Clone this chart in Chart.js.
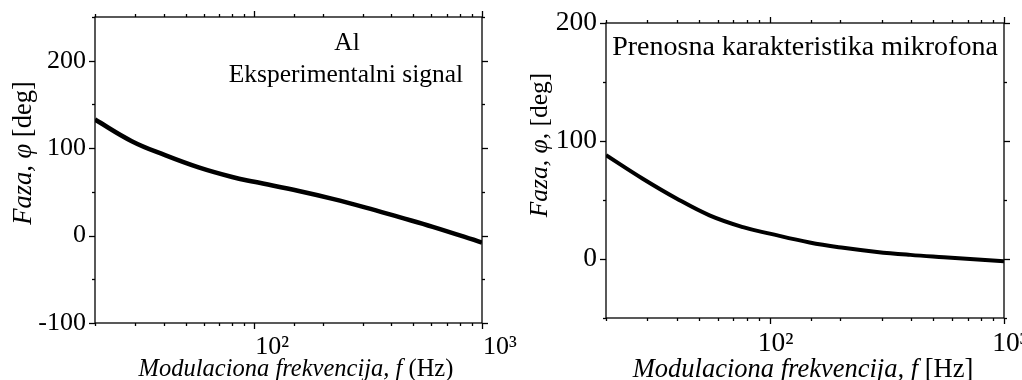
<!DOCTYPE html>
<html><head><meta charset="utf-8">
<script src="https://cdn.jsdelivr.net/npm/chart.js@4/dist/chart.umd.min.js"></script>
<style>
html,body{margin:0;padding:0;background:#fff;}
#wrap{position:relative;width:1022px;height:380px;overflow:hidden;background:#fff;}
.pane{position:absolute;top:0;height:380px;}
</style></head>
<body><div id="wrap">
<div class="pane" style="left:0;width:520px"><canvas id="c1" width="520" height="380"></canvas></div>
<div class="pane" style="left:510px;width:512px"><canvas id="c2" width="512" height="380"></canvas></div>
</div>
<script>
// ---- data ----
const freqAl = [20, 29, 40.6, 57, 80, 100, 157, 221, 309, 434, 608, 1000];
const phaseAl = [132.7, 108, 92, 78, 67, 61.5, 51, 42, 32, 21, 10, -8];
const freqMic = [20, 28.7, 39.8, 55.3, 76.9, 100, 148, 206, 287, 398, 553, 1000];
const phaseMic = [88, 68, 51.5, 37, 27, 21.5, 14, 9.5, 6, 3.5, 1.5, -2];
const xTickLabels = {100: '10\u00B2', 1000: '10\u00B3'};
const yLabelsLeft = [-100, 0, 100, 200];
const yLabelsRight = [0, 100, 200];
const annotLeft = ['Al', 'Eksperimentalni signal'];
const annotRight = ['Prenosna karakteristika mikrofona'];

const SERIF = '"Liberation Serif", "DejaVu Serif", serif';

function drawMixed(ctx, parts, size, cx, cy) {
  let total = 0;
  parts.forEach(p => { ctx.font = (p[1] ? 'italic ' : '') + size + 'px ' + SERIF; total += ctx.measureText(p[0]).width; });
  let x = cx - total / 2;
  ctx.textAlign = 'left'; ctx.textBaseline = 'middle';
  parts.forEach(p => { ctx.font = (p[1] ? 'italic ' : '') + size + 'px ' + SERIF; ctx.fillText(p[0], x, cy); x += ctx.measureText(p[0]).width; });
}

const framePlugin = {
  id: 'frame',
  afterDraw(chart, args, o) {
    const {ctx, chartArea: a, scales: {x, y}} = chart;
    ctx.save();
    ctx.strokeStyle = '#000'; ctx.fillStyle = '#000'; ctx.lineWidth = 1.3;
    ctx.strokeRect(a.left, a.top, a.right - a.left, a.bottom - a.top);
    const seg = (x1, y1, x2, y2) => { ctx.beginPath(); ctx.moveTo(x1, y1); ctx.lineTo(x2, y2); ctx.stroke(); };
    x.ticks.forEach(t => {
      const px = Math.round(x.getPixelForValue(t.value)) + 0.5;
      const L = xTickLabels[t.value] ? 6 : 3;
      seg(px, a.bottom, px, a.bottom + L);
      seg(px, a.top, px, a.top - L);
    });
    y.ticks.forEach(t => {
      const py = Math.round(y.getPixelForValue(t.value)) + 0.5;
      const L = o.yMajor.includes(t.value) ? 6 : 3;
      seg(a.left, py, a.left - L, py);
      seg(a.right, py, a.right + L, py);
    });
    o.annot.forEach(n => { ctx.font = o.annotSize + 'px ' + SERIF; ctx.textAlign = 'center'; ctx.textBaseline = 'middle'; ctx.fillText(n[0], n[1], n[2]); });
    ctx.save();
    ctx.translate(o.yTitleX, o.yTitleY);
    ctx.rotate(-Math.PI / 2);
    drawMixed(ctx, o.yTitle, o.yTitleSize, 0, 0);
    ctx.restore();
    drawMixed(ctx, o.xTitle, o.xTitleSize, o.xTitleX, o.xTitleY);
    ctx.restore();
  }
};

function makeChart(id, freq, phase, cfg) {
  return new Chart(document.getElementById(id), {
    type: 'line',
    data: { datasets: [{ data: freq.map((f, i) => ({x: f, y: phase[i]})), borderColor: '#000', borderWidth: cfg.lw, pointRadius: 0, tension: 0.4, fill: false }] },
    options: {
      responsive: false, animation: false, devicePixelRatio: 1,
      layout: { padding: cfg.pad },
      plugins: { legend: {display: false}, tooltip: {enabled: false}, frame: cfg.frame },
      scales: {
        x: {
          type: 'logarithmic', min: 20, max: 1000,
          grid: {display: false, drawTicks: false}, border: {display: false},
          afterFit: s => { s.height = cfg.xh; s.paddingLeft = 0; s.paddingRight = 0; },
          ticks: { autoSkip: false, maxRotation: 0, padding: cfg.xpad, labelOffset: cfg.xoff, color: '#000', font: {family: SERIF, size: cfg.tickSize},
            callback: v => xTickLabels[v] || '' }
        },
        y: {
          min: cfg.ymin, max: cfg.ymax,
          grid: {display: false, drawTicks: false}, border: {display: false},
          afterFit: s => { s.width = cfg.yw; s.paddingTop = 0; s.paddingBottom = 0; },
          ticks: { stepSize: 50, autoSkip: false, padding: 9, color: '#000', font: {family: SERIF, size: cfg.tickSize},
            callback: v => cfg.yLab.includes(v) ? String(v) : '' }
        }
      }
    },
    plugins: [framePlugin]
  });
}

makeChart('c1', freqAl, phaseAl, {
  lw: 4.5, pad: {left: 0, right: 38, top: 17, bottom: 0}, xh: 57, yw: 95, xpad: 9, xoff: 18, tickSize: 26,
  ymin: -100, ymax: 250, yLab: yLabelsLeft,
  frame: { yMajor: yLabelsLeft, annotSize: 25.5,
    annot: [[annotLeft[0], 347, 43], [annotLeft[1], 346, 75]],
    yTitleSize: 26.5, xTitleSize: 24.5,
    yTitle: [['Faza, ', true], ['\u03C6', true], [' [deg]', false]], yTitleX: 24, yTitleY: 153,
    xTitle: [['Modulaciona frekvencija, ', true], ['f', true], [' (Hz)', false]], xTitleX: 296, xTitleY: 370 }
});

makeChart('c2', freqMic, phaseMic, {
  lw: 4, pad: {left: 0, right: 18, top: 23, bottom: 0}, xh: 62, yw: 96, xpad: 9, xoff: 6, tickSize: 27.5,
  ymin: -50, ymax: 200, yLab: yLabelsRight,
  frame: { yMajor: yLabelsRight, annotSize: 28,
    annot: [[annotRight[0], 295, 48]],
    yTitleSize: 25.5, xTitleSize: 26.5,
    yTitle: [['Faza, ', true], ['\u03C6', true], [', [deg]', false]], yTitleX: 30, yTitleY: 145,
    xTitle: [['Modulaciona frekvencija, ', true], ['f', true], [' [Hz]', false]], xTitleX: 293, xTitleY: 370 }
});
</script>
</body></html>
